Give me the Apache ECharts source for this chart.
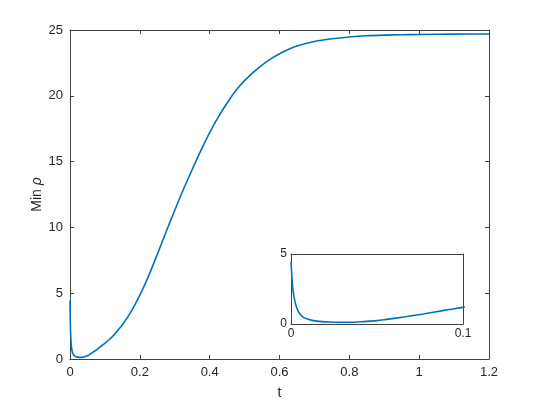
<!DOCTYPE html>
<html lang="en">
  <head>
    <meta charset="UTF-8" />
    <title>Min rho vs t</title>
    <script src="https://cdn.jsdelivr.net/npm/echarts@6/dist/echarts.min.js"></script>
    <style>
      html, body { margin: 0; padding: 0; background: #fff; }
      .box { width: 540px; height: 405px; }
    </style>
  </head>
  <body>
    <div class="box"></div>
    <script>
      // curve samples (t, min rho)
      var tValues = [0, 0.001, 0.0023, 0.0043, 0.0072, 0.01, 0.013, 0.018, 0.0226, 0.028,
        0.032, 0.037, 0.042, 0.05, 0.0555, 0.062, 0.069, 0.077, 0.0845, 0.092,
        0.1, 0.1125, 0.125, 0.15, 0.175, 0.2, 0.225, 0.25, 0.275, 0.3, 0.325,
        0.35, 0.375, 0.4, 0.425, 0.45, 0.475, 0.5, 0.525, 0.55, 0.575,
        0.6, 0.625, 0.65, 0.7, 0.75, 0.8, 0.85, 0.9, 0.95, 1.0, 1.1, 1.2];
      var rhoValues = [4.45, 2.6, 1.6, 0.88, 0.48, 0.34, 0.24, 0.17, 0.14, 0.125,
        0.12, 0.13, 0.17, 0.24, 0.33, 0.44, 0.57, 0.72, 0.88, 1.03,
        1.19, 1.48, 1.81, 2.6, 3.6, 4.85, 6.3, 7.95, 9.65, 11.3, 12.9,
        14.4, 15.85, 17.2, 18.4, 19.45, 20.4, 21.15, 21.78, 22.33, 22.8,
        23.2, 23.52, 23.78, 24.12, 24.33, 24.47, 24.56, 24.61, 24.64, 24.66, 24.69, 24.7];

      // axis ranges [min, max, interval]
      var mainX = [0, 1.2, 0.2];
      var mainY = [0, 25, 5];
      var insetX = [0, 0.1, 0.1];
      var insetY = [0, 5, 5];

      var points = [];
      for (var i = 0; i < tValues.length; i++) {
        points.push([tValues[i], rhoValues[i]]);
      }

      var axisColor = "#404040";
      var font = "Liberation Sans";

      function makeAxis(grid, range, pos, showLabel, fontSize) {
        return {
          type: "value",
          gridIndex: grid,
          position: pos,
          min: range[0],
          max: range[1],
          interval: range[2],
          axisLine: { show: true, onZero: false, lineStyle: { color: axisColor, width: 1 } },
          axisTick: { show: true, inside: true, length: 4, lineStyle: { color: axisColor } },
          splitLine: { show: false },
          axisLabel: {
            show: showLabel,
            color: "#262626",
            fontFamily: font,
            fontSize: fontSize,
            margin: 7
          }
        };
      }

      var chart = echarts.init(document.getElementsByClassName("box")[0]);

      var xMain = makeAxis(0, mainX, "bottom", true, 13);
      xMain.name = "t";
      xMain.nameLocation = "middle";
      xMain.nameGap = 27;
      xMain.nameTextStyle = { color: "#262626", fontFamily: font, fontSize: 14 };

      var yMain = makeAxis(0, mainY, "left", true, 13);
      yMain.name = "Min {i|ρ}";
      yMain.nameLocation = "middle";
      yMain.nameGap = 26;
      yMain.nameMoveOverlap = false;
      yMain.nameTextStyle = {
        color: "#262626", fontFamily: font, fontSize: 14,
        rich: { i: { fontStyle: "italic", fontFamily: font, fontSize: 14, color: "#262626" } }
      };

      var xInset = makeAxis(1, insetX, "bottom", true, 12);
      xInset.axisLabel.margin = 4;
      var yInset = makeAxis(1, insetY, "left", true, 12);
      yInset.axisLabel.margin = 4;

      var lineStyle = { color: "#0072BD", width: 1.6 };

      chart.setOption({
        animation: false,
        backgroundColor: "#fff",
        grid: [
          { left: 70, right: 51, top: 30, bottom: 44 },
          { left: 291, width: 172, top: 254, height: 70, show: true, backgroundColor: "#fff", borderWidth: 0 }
        ],
        xAxis: [
          xMain,
          makeAxis(0, mainX, "top", false, 13),
          xInset,
          makeAxis(1, insetX, "top", false, 12)
        ],
        yAxis: [
          yMain,
          makeAxis(0, mainY, "right", false, 13),
          yInset,
          makeAxis(1, insetY, "right", false, 12)
        ],
        series: [
          {
            type: "line",
            xAxisIndex: 0,
            yAxisIndex: 0,
            data: points,
            showSymbol: false,
            smooth: 0.25,
            lineStyle: lineStyle
          },
          {
            type: "line",
            xAxisIndex: 2,
            yAxisIndex: 2,
            data: points,
            showSymbol: false,
            clip: true,
            smooth: 0.25,
            lineStyle: lineStyle
          }
        ]
      });
    </script>
  </body>
</html>
